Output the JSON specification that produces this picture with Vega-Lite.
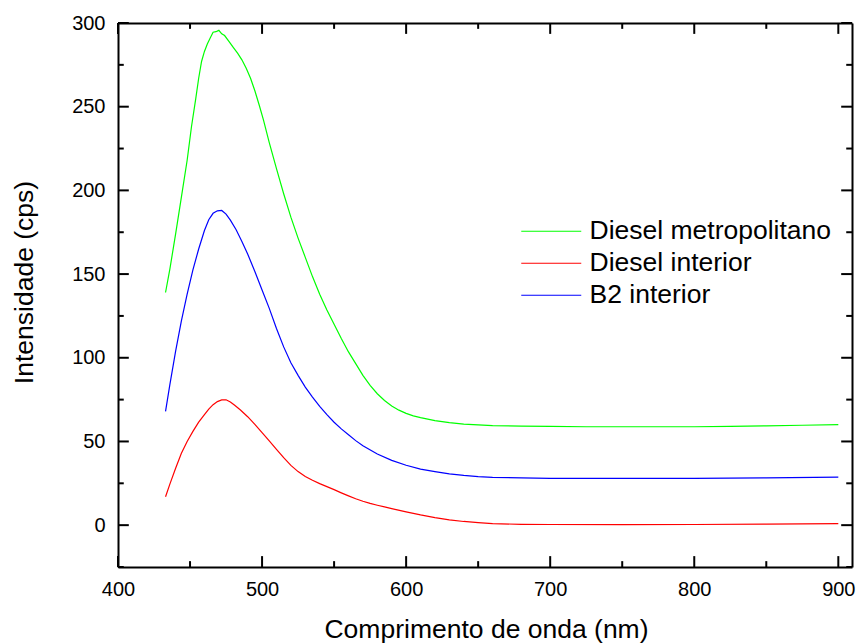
{
  "$schema": "https://vega.github.io/schema/vega-lite/v6.json",
  "autosize": {"type": "none"},
  "width": 734,
  "height": 544,
  "padding": {"left": 118, "top": 23, "right": 7, "bottom": 77},
  "background": "white",
  "config": {
    "view": {"stroke": null},
    "font": "Liberation Sans",
    "axis": {"grid": false, "domainColor": "black", "domainWidth": 2, "labelColor": "black", "titleColor": "black", "labelFont": "Liberation Sans", "titleFont": "Liberation Sans", "labelFontSize": 20, "titleFontSize": 26.5, "titleFontWeight": "normal"}
  },
  "datasets": {
    "xmajor": [{"t": 400}, {"t": 500}, {"t": 600}, {"t": 700}, {"t": 800}, {"t": 900}],
    "xminor": [{"t": 450}, {"t": 550}, {"t": 650}, {"t": 750}, {"t": 850}],
    "ymajor": [{"t": 0}, {"t": 50}, {"t": 100}, {"t": 150}, {"t": 200}, {"t": 250}, {"t": 300}],
    "yminor": [{"t": -25}, {"t": 25}, {"t": 75}, {"t": 125}, {"t": 175}, {"t": 225}, {"t": 275}],
    "spectra": [
      {"s": "Diesel metropolitano", "x": 433, "y": 139},
      {"s": "Diesel metropolitano", "x": 436, "y": 153},
      {"s": "Diesel metropolitano", "x": 440, "y": 174},
      {"s": "Diesel metropolitano", "x": 444, "y": 196},
      {"s": "Diesel metropolitano", "x": 448, "y": 218},
      {"s": "Diesel metropolitano", "x": 451, "y": 238},
      {"s": "Diesel metropolitano", "x": 454, "y": 255},
      {"s": "Diesel metropolitano", "x": 456, "y": 267},
      {"s": "Diesel metropolitano", "x": 458, "y": 277},
      {"s": "Diesel metropolitano", "x": 460, "y": 283},
      {"s": "Diesel metropolitano", "x": 462, "y": 287.5},
      {"s": "Diesel metropolitano", "x": 464, "y": 291},
      {"s": "Diesel metropolitano", "x": 466, "y": 294.5},
      {"s": "Diesel metropolitano", "x": 468, "y": 294.8},
      {"s": "Diesel metropolitano", "x": 470, "y": 295.6},
      {"s": "Diesel metropolitano", "x": 472, "y": 293.5},
      {"s": "Diesel metropolitano", "x": 474, "y": 292.5},
      {"s": "Diesel metropolitano", "x": 477, "y": 289},
      {"s": "Diesel metropolitano", "x": 480, "y": 285.5},
      {"s": "Diesel metropolitano", "x": 483, "y": 282},
      {"s": "Diesel metropolitano", "x": 486, "y": 278},
      {"s": "Diesel metropolitano", "x": 489, "y": 273},
      {"s": "Diesel metropolitano", "x": 492, "y": 267},
      {"s": "Diesel metropolitano", "x": 495, "y": 259.5},
      {"s": "Diesel metropolitano", "x": 498, "y": 251},
      {"s": "Diesel metropolitano", "x": 501, "y": 242},
      {"s": "Diesel metropolitano", "x": 505, "y": 228.5},
      {"s": "Diesel metropolitano", "x": 510, "y": 213},
      {"s": "Diesel metropolitano", "x": 515, "y": 198},
      {"s": "Diesel metropolitano", "x": 520, "y": 184},
      {"s": "Diesel metropolitano", "x": 525, "y": 171.5},
      {"s": "Diesel metropolitano", "x": 530, "y": 160},
      {"s": "Diesel metropolitano", "x": 535, "y": 148.5},
      {"s": "Diesel metropolitano", "x": 540, "y": 138},
      {"s": "Diesel metropolitano", "x": 545, "y": 128.5},
      {"s": "Diesel metropolitano", "x": 550, "y": 120},
      {"s": "Diesel metropolitano", "x": 555, "y": 111.5},
      {"s": "Diesel metropolitano", "x": 560, "y": 103.5},
      {"s": "Diesel metropolitano", "x": 565, "y": 96.5},
      {"s": "Diesel metropolitano", "x": 570, "y": 89.5},
      {"s": "Diesel metropolitano", "x": 575, "y": 83.5},
      {"s": "Diesel metropolitano", "x": 580, "y": 78.5},
      {"s": "Diesel metropolitano", "x": 585, "y": 74.5},
      {"s": "Diesel metropolitano", "x": 590, "y": 71.2},
      {"s": "Diesel metropolitano", "x": 595, "y": 68.7},
      {"s": "Diesel metropolitano", "x": 600, "y": 66.8},
      {"s": "Diesel metropolitano", "x": 605, "y": 65.3},
      {"s": "Diesel metropolitano", "x": 610, "y": 64.2},
      {"s": "Diesel metropolitano", "x": 620, "y": 62.5},
      {"s": "Diesel metropolitano", "x": 630, "y": 61.2},
      {"s": "Diesel metropolitano", "x": 640, "y": 60.4},
      {"s": "Diesel metropolitano", "x": 650, "y": 59.9},
      {"s": "Diesel metropolitano", "x": 660, "y": 59.5},
      {"s": "Diesel metropolitano", "x": 680, "y": 59.2},
      {"s": "Diesel metropolitano", "x": 700, "y": 59},
      {"s": "Diesel metropolitano", "x": 725, "y": 58.8},
      {"s": "Diesel metropolitano", "x": 750, "y": 58.8},
      {"s": "Diesel metropolitano", "x": 775, "y": 58.8},
      {"s": "Diesel metropolitano", "x": 800, "y": 58.8},
      {"s": "Diesel metropolitano", "x": 825, "y": 59},
      {"s": "Diesel metropolitano", "x": 850, "y": 59.3},
      {"s": "Diesel metropolitano", "x": 875, "y": 59.7},
      {"s": "Diesel metropolitano", "x": 900, "y": 60},
      {"s": "Diesel interior", "x": 433, "y": 17},
      {"s": "Diesel interior", "x": 436, "y": 24.5},
      {"s": "Diesel interior", "x": 440, "y": 34},
      {"s": "Diesel interior", "x": 444, "y": 43},
      {"s": "Diesel interior", "x": 448, "y": 50},
      {"s": "Diesel interior", "x": 452, "y": 56},
      {"s": "Diesel interior", "x": 456, "y": 61.5},
      {"s": "Diesel interior", "x": 460, "y": 66},
      {"s": "Diesel interior", "x": 463, "y": 69.3},
      {"s": "Diesel interior", "x": 466, "y": 72},
      {"s": "Diesel interior", "x": 469, "y": 73.8},
      {"s": "Diesel interior", "x": 472, "y": 74.8},
      {"s": "Diesel interior", "x": 475, "y": 74.9},
      {"s": "Diesel interior", "x": 478, "y": 73.6},
      {"s": "Diesel interior", "x": 481, "y": 71.6},
      {"s": "Diesel interior", "x": 485, "y": 68.8},
      {"s": "Diesel interior", "x": 490, "y": 64.8},
      {"s": "Diesel interior", "x": 495, "y": 60.2},
      {"s": "Diesel interior", "x": 500, "y": 55.3},
      {"s": "Diesel interior", "x": 505, "y": 50.3},
      {"s": "Diesel interior", "x": 510, "y": 45.3},
      {"s": "Diesel interior", "x": 515, "y": 40.3},
      {"s": "Diesel interior", "x": 520, "y": 35.7},
      {"s": "Diesel interior", "x": 525, "y": 32},
      {"s": "Diesel interior", "x": 530, "y": 29.1},
      {"s": "Diesel interior", "x": 535, "y": 26.8},
      {"s": "Diesel interior", "x": 540, "y": 24.8},
      {"s": "Diesel interior", "x": 545, "y": 23},
      {"s": "Diesel interior", "x": 550, "y": 21.2},
      {"s": "Diesel interior", "x": 555, "y": 19.3},
      {"s": "Diesel interior", "x": 560, "y": 17.5},
      {"s": "Diesel interior", "x": 565, "y": 15.8},
      {"s": "Diesel interior", "x": 570, "y": 14.3},
      {"s": "Diesel interior", "x": 575, "y": 13},
      {"s": "Diesel interior", "x": 580, "y": 11.9},
      {"s": "Diesel interior", "x": 585, "y": 10.9},
      {"s": "Diesel interior", "x": 590, "y": 9.9},
      {"s": "Diesel interior", "x": 600, "y": 7.9},
      {"s": "Diesel interior", "x": 610, "y": 6.1},
      {"s": "Diesel interior", "x": 620, "y": 4.5},
      {"s": "Diesel interior", "x": 630, "y": 3.2},
      {"s": "Diesel interior", "x": 640, "y": 2.2},
      {"s": "Diesel interior", "x": 650, "y": 1.5},
      {"s": "Diesel interior", "x": 660, "y": 0.9},
      {"s": "Diesel interior", "x": 680, "y": 0.5},
      {"s": "Diesel interior", "x": 700, "y": 0.4},
      {"s": "Diesel interior", "x": 750, "y": 0.3},
      {"s": "Diesel interior", "x": 800, "y": 0.4},
      {"s": "Diesel interior", "x": 850, "y": 0.6},
      {"s": "Diesel interior", "x": 900, "y": 0.9},
      {"s": "B2 interior", "x": 433, "y": 68},
      {"s": "B2 interior", "x": 436, "y": 84},
      {"s": "B2 interior", "x": 440, "y": 104},
      {"s": "B2 interior", "x": 444, "y": 122},
      {"s": "B2 interior", "x": 448, "y": 138},
      {"s": "B2 interior", "x": 452, "y": 152.5},
      {"s": "B2 interior", "x": 456, "y": 165},
      {"s": "B2 interior", "x": 460, "y": 176},
      {"s": "B2 interior", "x": 463, "y": 182.5},
      {"s": "B2 interior", "x": 466, "y": 186.3},
      {"s": "B2 interior", "x": 469, "y": 187.8},
      {"s": "B2 interior", "x": 472, "y": 188},
      {"s": "B2 interior", "x": 475, "y": 185.8},
      {"s": "B2 interior", "x": 478, "y": 182.2},
      {"s": "B2 interior", "x": 482, "y": 176.5},
      {"s": "B2 interior", "x": 486, "y": 169.5},
      {"s": "B2 interior", "x": 490, "y": 162},
      {"s": "B2 interior", "x": 495, "y": 151.5},
      {"s": "B2 interior", "x": 500, "y": 140.5},
      {"s": "B2 interior", "x": 505, "y": 129.5},
      {"s": "B2 interior", "x": 510, "y": 117.5},
      {"s": "B2 interior", "x": 515, "y": 106.5},
      {"s": "B2 interior", "x": 520, "y": 97},
      {"s": "B2 interior", "x": 525, "y": 89.5},
      {"s": "B2 interior", "x": 530, "y": 82.5},
      {"s": "B2 interior", "x": 535, "y": 76.5},
      {"s": "B2 interior", "x": 540, "y": 71},
      {"s": "B2 interior", "x": 545, "y": 66},
      {"s": "B2 interior", "x": 550, "y": 61.5},
      {"s": "B2 interior", "x": 555, "y": 57.5},
      {"s": "B2 interior", "x": 560, "y": 54},
      {"s": "B2 interior", "x": 565, "y": 50.5},
      {"s": "B2 interior", "x": 570, "y": 47.5},
      {"s": "B2 interior", "x": 580, "y": 42.5},
      {"s": "B2 interior", "x": 590, "y": 38.7},
      {"s": "B2 interior", "x": 600, "y": 35.8},
      {"s": "B2 interior", "x": 610, "y": 33.5},
      {"s": "B2 interior", "x": 620, "y": 32},
      {"s": "B2 interior", "x": 630, "y": 30.6},
      {"s": "B2 interior", "x": 640, "y": 29.7},
      {"s": "B2 interior", "x": 650, "y": 29},
      {"s": "B2 interior", "x": 660, "y": 28.6},
      {"s": "B2 interior", "x": 680, "y": 28.2},
      {"s": "B2 interior", "x": 700, "y": 28},
      {"s": "B2 interior", "x": 750, "y": 27.9},
      {"s": "B2 interior", "x": 800, "y": 28},
      {"s": "B2 interior", "x": 850, "y": 28.2},
      {"s": "B2 interior", "x": 900, "y": 28.7}
    ]
  },
  "resolve": {"axis": {"x": "independent", "y": "independent"}},
  "layer": [
    {
      "data": {"name": "spectra"},
      "mark": {"type": "line", "strokeWidth": 1.2},
      "encoding": {
        "x": {"field": "x", "type": "quantitative",
          "scale": {"domain": [400, 909.5], "nice": false, "zero": false},
          "axis": {"orient": "bottom", "title": "Comprimento de onda (nm)",
            "values": [400, 500, 600, 700, 800, 900],
            "ticks": false, "tickSize": 0,
            "labelPadding": 12, "labelFlush": false, "labelOverlap": false,
            "titleX": 368, "titleY": 70, "titleBaseline": "alphabetic"}},
        "y": {"field": "y", "type": "quantitative",
          "scale": {"domain": [-25, 300], "nice": false, "zero": false},
          "axis": {"orient": "left", "title": "Intensidade (cps)",
            "values": [0, 50, 100, 150, 200, 250, 300],
            "ticks": false, "tickSize": 0,
            "labelPadding": 13, "labelFlush": false, "labelOverlap": false,
            "titleX": -86, "titleY": 259, "titleBaseline": "alphabetic"}},
        "color": {"field": "s", "type": "nominal",
          "scale": {"domain": ["Diesel metropolitano", "Diesel interior", "B2 interior"], "range": ["#00ff00", "#ff0000", "#0000ff"]},
          "legend": {"title": null, "orient": "none", "legendX": 420, "legendY": 195, "symbolType": "M-6,0H6", "symbolSize": 100, "symbolStrokeWidth": 1.2, "labelFontSize": 26.5, "labelFont": "Liberation Sans", "labelColor": "black", "labelOffset": 25, "labelLimit": 500, "rowPadding": 5, "padding": 0}}
      }
    },
    {
      "data": {"name": "spectra"},
      "mark": {"type": "point", "opacity": 0},
      "encoding": {
        "x": {"field": "x", "type": "quantitative",
          "axis": {"orient": "top", "title": null, "labels": false, "ticks": false,
            "values": [400, 500, 600, 700, 800, 900]}},
        "y": {"field": "y", "type": "quantitative",
          "axis": {"orient": "right", "title": null, "labels": false, "ticks": false,
            "values": [0, 50, 100, 150, 200, 250, 300]}}
      }
    },
    {
      "data": {"name": "xmajor"},
      "mark": {"type": "rule", "color": "black", "strokeWidth": 2},
      "encoding": {"x": {"field": "t", "type": "quantitative", "axis": null}, "y": {"datum": -25, "type": "quantitative", "axis": null}, "y2": {"datum": -18.5}}
    },
    {
      "data": {"name": "xmajor"},
      "mark": {"type": "rule", "color": "black", "strokeWidth": 2},
      "encoding": {"x": {"field": "t", "type": "quantitative", "axis": null}, "y": {"datum": 300, "type": "quantitative", "axis": null}, "y2": {"datum": 293.5}}
    },
    {
      "data": {"name": "xminor"},
      "mark": {"type": "rule", "color": "black", "strokeWidth": 2},
      "encoding": {"x": {"field": "t", "type": "quantitative", "axis": null}, "y": {"datum": -25, "type": "quantitative", "axis": null}, "y2": {"datum": -21.5}}
    },
    {
      "data": {"name": "xminor"},
      "mark": {"type": "rule", "color": "black", "strokeWidth": 2},
      "encoding": {"x": {"field": "t", "type": "quantitative", "axis": null}, "y": {"datum": 300, "type": "quantitative", "axis": null}, "y2": {"datum": 296.5}}
    },
    {
      "data": {"name": "ymajor"},
      "mark": {"type": "rule", "color": "black", "strokeWidth": 2},
      "encoding": {"y": {"field": "t", "type": "quantitative", "axis": null}, "x": {"datum": 400, "type": "quantitative", "axis": null}, "x2": {"datum": 407.5}}
    },
    {
      "data": {"name": "ymajor"},
      "mark": {"type": "rule", "color": "black", "strokeWidth": 2},
      "encoding": {"y": {"field": "t", "type": "quantitative", "axis": null}, "x": {"datum": 909.5, "type": "quantitative", "axis": null}, "x2": {"datum": 902}}
    },
    {
      "data": {"name": "yminor"},
      "mark": {"type": "rule", "color": "black", "strokeWidth": 2},
      "encoding": {"y": {"field": "t", "type": "quantitative", "axis": null}, "x": {"datum": 400, "type": "quantitative", "axis": null}, "x2": {"datum": 404}}
    },
    {
      "data": {"name": "yminor"},
      "mark": {"type": "rule", "color": "black", "strokeWidth": 2},
      "encoding": {"y": {"field": "t", "type": "quantitative", "axis": null}, "x": {"datum": 909.5, "type": "quantitative", "axis": null}, "x2": {"datum": 905.5}}
    }
  ]
}
